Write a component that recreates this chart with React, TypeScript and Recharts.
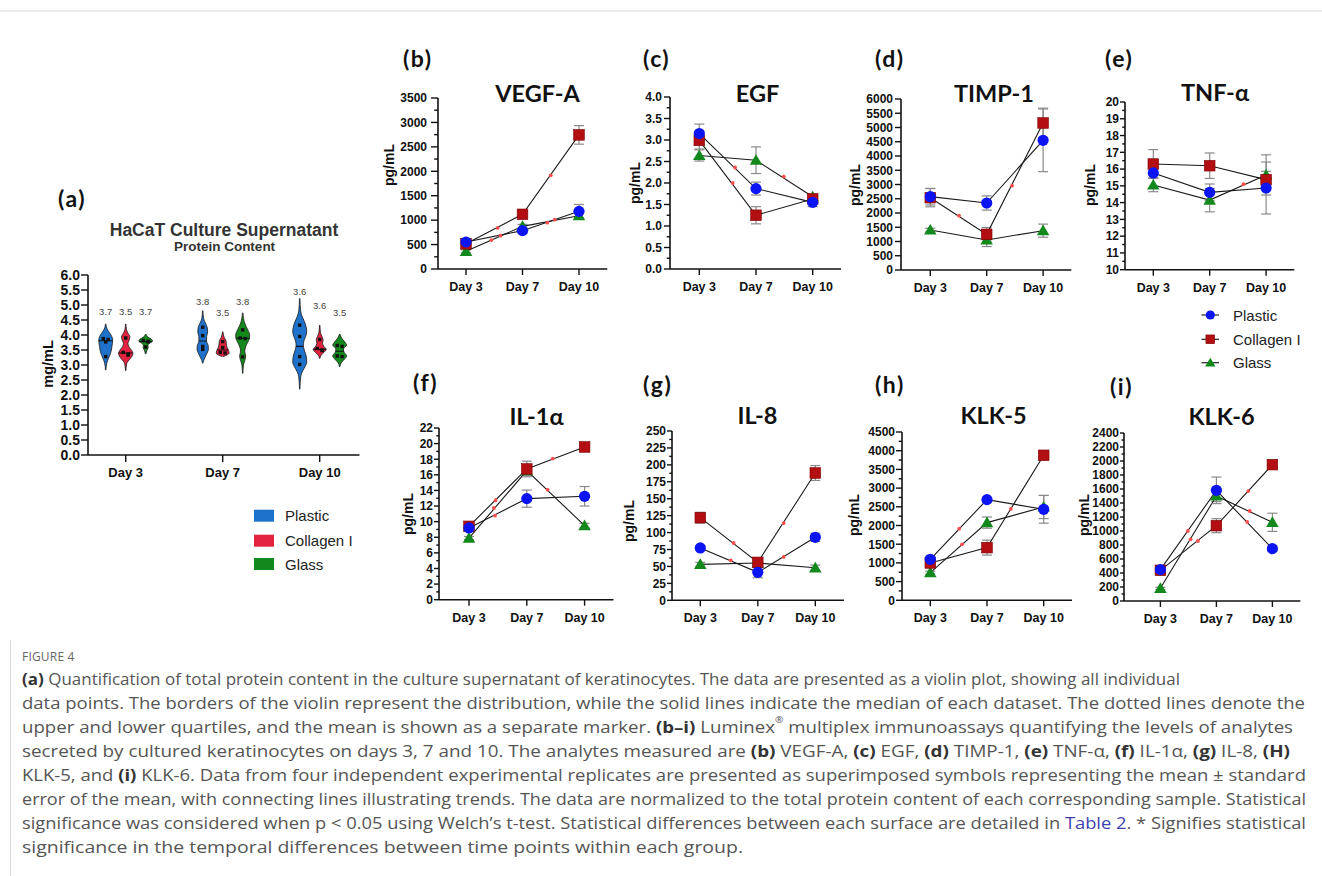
import React from 'react';
import { ComposedChart, Line, Scatter, Area, XAxis, YAxis, ErrorBar } from 'recharts';

// ---------------- shared categories ----------------
const DAYS = ['Day 3', 'Day 7', 'Day 10'];
const DAY_POS = [0, 1, 2];
const GROUPS = ['Plastic', 'Collagen I', 'Glass'];

// ---------------- (a) protein content (violin) ----------------
const PROTEIN_TICKS = [0, 0.5, 1, 1.5, 2, 2.5, 3, 3.5, 4, 4.5, 5, 5.5, 6];
const PLASTIC_POINTS = [[3.88, 3.85, 3.77, 3.28], [4.26, 3.98, 3.62, 3.52], [4.33, 3.95, 3.28, 3.02]];
const COLLAGEN_POINTS = [[3.9, 3.42, 3.37, 3.33], [3.78, 3.58, 3.42, 3.4], [3.85, 3.55, 3.5, 3.48]];
const GLASS_POINTS = [[3.82, 3.79, 3.77, 3.6], [4.17, 3.9, 3.88, 3.27], [3.65, 3.62, 3.3, 3.28]];
const PLASTIC_MEDIAN = [3.81, 3.8, 3.62];
const COLLAGEN_MEDIAN = [3.4, 3.5, 3.52];
const GLASS_MEDIAN = [3.78, 3.89, 3.46];
const PLASTIC_MEAN_LABEL = ['3.7', '3.8', '3.6'];
const COLLAGEN_MEAN_LABEL = ['3.5', '3.5', '3.6'];
const GLASS_MEAN_LABEL = ['3.7', '3.8', '3.5'];
const PLASTIC_LABEL_AT = [4.77, 5.1, 5.43];
const COLLAGEN_LABEL_AT = [4.77, 4.73, 4.97];
const GLASS_LABEL_AT = [4.77, 5.1, 4.73];
// violin outlines: [mg/mL, relative width]
const PLASTIC_PROFILE = [
  [[2.83, 0.03], [3.06, 0.14], [3.22, 0.36], [3.39, 0.64], [3.61, 0.82], [3.83, 0.92], [3.95, 0.8], [4.06, 0.55], [4.2, 0.18], [4.37, 0.03]],
  [[3.06, 0.03], [3.15, 0.12], [3.25, 0.3], [3.4, 0.58], [3.52, 0.75], [3.65, 0.72], [3.8, 0.5], [3.95, 0.52], [4.1, 0.65], [4.25, 0.6], [4.4, 0.35], [4.55, 0.12], [4.81, 0.03]],
  [[2.19, 0.03], [2.6, 0.12], [2.8, 0.38], [2.95, 0.72], [3.1, 0.92], [3.3, 0.85], [3.5, 0.6], [3.65, 0.48], [3.8, 0.55], [3.95, 0.78], [4.1, 0.92], [4.3, 0.82], [4.45, 0.62], [4.6, 0.35], [4.8, 0.12], [5.22, 0.03]],
];
const COLLAGEN_PROFILE = [
  [[2.81, 0.03], [3.05, 0.14], [3.17, 0.45], [3.3, 0.85], [3.39, 0.95], [3.5, 0.75], [3.62, 0.4], [3.72, 0.3], [3.84, 0.48], [3.94, 0.55], [4.06, 0.3], [4.18, 0.1], [4.37, 0.03]],
  [[3.28, 0.05], [3.33, 0.55], [3.4, 0.85], [3.48, 0.78], [3.6, 0.55], [3.72, 0.48], [3.82, 0.42], [3.92, 0.2], [4.0, 0.1], [4.11, 0.03]],
  [[3.22, 0.03], [3.33, 0.2], [3.43, 0.6], [3.52, 0.85], [3.62, 0.55], [3.72, 0.38], [3.84, 0.45], [3.95, 0.3], [4.08, 0.1], [4.33, 0.03]],
];
const GLASS_PROFILE = [
  [[3.37, 0.03], [3.48, 0.15], [3.58, 0.33], [3.66, 0.3], [3.74, 0.6], [3.8, 0.92], [3.86, 0.75], [3.93, 0.3], [4.03, 0.03]],
  [[2.72, 0.03], [3.0, 0.1], [3.15, 0.28], [3.3, 0.4], [3.45, 0.28], [3.6, 0.38], [3.75, 0.65], [3.9, 0.9], [4.0, 0.92], [4.15, 0.72], [4.3, 0.42], [4.45, 0.2], [4.74, 0.03]],
  [[2.94, 0.03], [3.08, 0.22], [3.2, 0.65], [3.3, 0.92], [3.42, 0.6], [3.5, 0.5], [3.58, 0.6], [3.66, 0.92], [3.76, 0.7], [3.9, 0.25], [4.03, 0.03]],
];

// ---------------- (b)-(i) Luminex analytes: mean and SEM per day ----------------
const VEGFA = { plastic: [553, 785, 1180], plasticSem: [45, 50, 140], collagen: [515, 1119, 2745], collagenSem: [30, 60, 190], glass: [362, 873, 1091], glassSem: [30, 40, 40] };
const EGF = { plastic: [3.15, 1.87, 1.55], plasticSem: [0.22, 0.15, 0.1], collagen: [2.99, 1.25, 1.63], collagenSem: [0.2, 0.2, 0.08], glass: [2.64, 2.53, 1.68], glassSem: [0.13, 0.31, 0.05] };
const TIMP1 = { plastic: [2573, 2351, 4550], plasticSem: [290, 250, 1100], collagen: [2538, 1251, 5158], collagenSem: [320, 240, 520], glass: [1404, 1053, 1380], glassSem: [60, 230, 230] };
const TNFA = { plastic: [15.77, 14.61, 14.87], plasticSem: [0.3, 0.5, 1.55], collagen: [16.3, 16.2, 15.37], collagenSem: [0.86, 0.76, 0.5], glass: [15.05, 14.15, 15.65], glassSem: [0.4, 0.7, 1.2] };
const IL1A = { plastic: [9.19, 12.95, 13.25], plasticSem: [0.4, 1.1, 1.25], collagen: [9.4, 16.75, 19.57], collagenSem: [0.3, 1.0, 0.3], glass: [7.9, 16.54, 9.49], glassSem: [0.2, 0.6, 0.3] };
const IL8 = { plastic: [77.3, 41.3, 93], plasticSem: [3, 8, 6], collagen: [122, 56, 188], collagenSem: [8, 5, 11], glass: [53, 55, 48], glassSem: [3, 3, 4] };
const KLK5 = { plastic: [1096, 2692, 2433], plasticSem: [80, 60, 370], collagen: [998, 1408, 3877], collagenSem: [60, 200, 60], glass: [740, 2077, 2495], glassSem: [40, 150, 310] };
const KLK6 = { plastic: [448, 1581, 748], plasticSem: [30, 190, 40], collagen: [438, 1076, 1948], collagenSem: [20, 100, 40], glass: [181, 1500, 1124], glassSem: [15, 80, 130] };

// significance markers on the connecting lines: [day position, value]
const VEGFA_SIG = [[0.56, 840], [0.45, 593], [0.61, 682], [1.5, 1917], [1.44, 948], [1.57, 1010]];
const EGF_SIG = [[0.63, 2.36], [0.59, 2.0], [1.49, 2.15]];
const TIMP1_SIG = [[0.51, 1906], [1.45, 2960]];
const TNFA_SIG = [[1.6, 15.1]];
const IL1A_SIG = [[0.46, 12.74], [0.43, 11.75], [0.45, 10.77], [1.45, 18.08], [1.36, 14.1]];
const IL8_SIG = [[0.58, 84.6], [0.53, 59], [1.45, 114], [1.45, 64]];
const KLK5_SIG = [[0.51, 1916], [0.56, 1497], [1.42, 2442]];
const KLK6_SIG = [[0.49, 1000], [0.54, 881], [0.67, 857], [1.57, 1571], [1.595, 1286], [1.55, 1129]];

// y-axis tick labels
const VEGFA_TICKS = [0, 500, 1000, 1500, 2000, 2500, 3000, 3500];
const EGF_TICKS = [0, 0.5, 1, 1.5, 2, 2.5, 3, 3.5, 4];
const TIMP1_TICKS = [0, 500, 1000, 1500, 2000, 2500, 3000, 3500, 4000, 4500, 5000, 5500, 6000];
const TNFA_TICKS = [10, 11, 12, 13, 14, 15, 16, 17, 18, 19, 20];
const IL1A_TICKS = [0, 2, 4, 6, 8, 10, 12, 14, 16, 18, 20, 22];
const IL8_TICKS = [0, 25, 50, 75, 100, 125, 150, 175, 200, 225, 250];
const KLK5_TICKS = [0, 500, 1000, 1500, 2000, 2500, 3000, 3500, 4000, 4500];
const KLK6_TICKS = [0, 200, 400, 600, 800, 1000, 1200, 1400, 1600, 1800, 2000, 2200, 2400];

// ---------------- styles / layout ----------------
const SANS = "'Liberation Sans', Arial, sans-serif";
const TITLE_FONT = "Lato, 'Liberation Sans', sans-serif";
const CAPTION_FONT = "'Open Sans', 'Liberation Sans', sans-serif";
const VIOLIN_COLORS = ['#1f72cc', '#e3223f', '#13891d'];
const MARK_COLORS = ['#0b14f2', '#b30f12', '#13891d'];
const GROUP_OFFSET = [-0.206, 0, 0.206];
const VIOLIN_W = 0.078;

const LINE_PANELS = [
  { letter: '(b)', title: 'VEGF-A', values: VEGFA, sig: VEGFA_SIG, ticks: VEGFA_TICKS, minor: true, decimals: 0, axisX: 438, top: 98, bottom: 269, day0: 466, step: 56.5, tickLen: 7, tickGap: 4, letterPos: [403, 57.5], titlePos: [537.5, 92.5], ylabelPos: [389, 165] },
  { letter: '(c)', title: 'EGF', values: EGF, sig: EGF_SIG, ticks: EGF_TICKS, minor: true, decimals: 1, axisX: 670, top: 97.3, bottom: 269.3, day0: 699.3, step: 56.7, tickLen: 6, tickGap: 2, letterPos: [643, 57.5], titlePos: [757.5, 92.5], ylabelPos: [635, 183] },
  { letter: '(d)', title: 'TIMP-1', values: TIMP1, sig: TIMP1_SIG, ticks: TIMP1_TICKS, minor: false, decimals: 0, axisX: 900.7, top: 99, bottom: 270, day0: 930, step: 56.4, tickLen: 6, tickGap: 2, letterPos: [875, 57.5], titlePos: [994, 92.5], ylabelPos: [855, 185] },
  { letter: '(e)', title: 'TNF-α', values: TNFA, sig: TNFA_SIG, ticks: TNFA_TICKS, minor: true, decimals: 0, axisX: 1125, top: 102.3, bottom: 270, day0: 1153.3, step: 56.4, tickLen: 5, tickGap: 1, letterPos: [1105, 57.5], titlePos: [1215, 91.5], ylabelPos: [1090, 185] },
  { letter: '(f)', title: 'IL-1α', values: IL1A, sig: IL1A_SIG, ticks: IL1A_TICKS, minor: true, decimals: 0, axisX: 439.3, top: 428.3, bottom: 600, day0: 469.3, step: 57.8, tickLen: 5, tickGap: 1, letterPos: [413, 381.5], titlePos: [536.5, 416], ylabelPos: [407.5, 514] },
  { letter: '(g)', title: 'IL-8', values: IL8, sig: IL8_SIG, ticks: IL8_TICKS, minor: true, decimals: 0, axisX: 671.7, top: 430.7, bottom: 600, day0: 700, step: 57.5, tickLen: 5, tickGap: 1, letterPos: [643, 384], titlePos: [757.5, 414.5], ylabelPos: [628.5, 521] },
  { letter: '(h)', title: 'KLK-5', values: KLK5, sig: KLK5_SIG, ticks: KLK5_TICKS, minor: true, decimals: 0, axisX: 901.7, top: 431.7, bottom: 600, day0: 930, step: 56.7, tickLen: 6, tickGap: 1, letterPos: [875, 384], titlePos: [993.5, 414.5], ylabelPos: [854, 515] },
  { letter: '(i)', title: 'KLK-6', values: KLK6, sig: KLK6_SIG, ticks: KLK6_TICKS, minor: true, decimals: 0, axisX: 1124.3, top: 432.7, bottom: 600.7, day0: 1160.7, step: 56, tickLen: 4, tickGap: 1, letterPos: [1110, 386], titlePos: [1221.5, 415.5], ylabelPos: [1084, 515] },
];

const CAPTION_LINES = [
  [['b', '(a)'], ['n', ' Quantification of total protein content in the culture supernatant of keratinocytes. The data are presented as a violin plot, showing all individual']],
  [['n', 'data points. The borders of the violin represent the distribution, while the solid lines indicate the median of each dataset. The dotted lines denote the']],
  [['n', 'upper and lower quartiles, and the mean is shown as a separate marker. '], ['b', '(b–i)'], ['n', ' Luminex'], ['s', '®'], ['n', ' multiplex immunoassays quantifying the levels of analytes']],
  [['n', 'secreted by cultured keratinocytes on days 3, 7 and 10. The analytes measured are '], ['b', '(b)'], ['n', ' VEGF-A, '], ['b', '(c)'], ['n', ' EGF, '], ['b', '(d)'], ['n', ' TIMP-1, '], ['b', '(e)'], ['n', ' TNF-α, '], ['b', '(f)'], ['n', ' IL-1α, '], ['b', '(g)'], ['n', ' IL-8, '], ['b', '(H)']],
  [['n', 'KLK-5, and '], ['b', '(i)'], ['n', ' KLK-6. Data from four independent experimental replicates are presented as superimposed symbols representing the mean ± standard']],
  [['n', 'error of the mean, with connecting lines illustrating trends. The data are normalized to the total protein content of each corresponding sample. Statistical']],
  [['n', 'significance was considered when p < 0.05 using Welch’s t-test. Statistical differences between each surface are detailed in '], ['l', 'Table 2'], ['n', '. * Signifies statistical']],
  [['n', 'significance in the temporal differences between time points within each group.']],
];
const CAPTION_ENDS = [1180, 1305, 1293, 1290, 1306, 1306, 1306, 743];

// ---------------- helpers ----------------
const yTickRenderer = (majors, decimals, fontSize, tickLen, gap) => (props) => {
  const { x, y, payload } = props;
  const value = payload.value;
  const major = majors.some((m) => Math.abs(m - value) < 1e-9);
  const ax = x + tickLen + gap;
  return (
    <g>
      <line x1={ax - (major ? tickLen : Math.max(2.5, tickLen * 0.55))} y1={y} x2={ax} y2={y} stroke="#111" strokeWidth={1.4} />
      {major ? (
        <text x={x} y={y} dy="0.36em" textAnchor="end" fontSize={fontSize} fontWeight={700} fill="#111" fontFamily={SANS}>
          {value.toFixed(decimals)}
        </text>
      ) : null}
    </g>
  );
};

const markerShape = (kind, cx, cy, s, key) => {
  if (kind === 0) return <circle key={key} cx={cx} cy={cy} r={s} fill={MARK_COLORS[0]} />;
  if (kind === 1)
    return <rect key={key} x={cx - s * 0.95} y={cy - s * 0.95} width={s * 1.9} height={s * 1.9} fill={MARK_COLORS[1]} stroke="#7a0000" strokeWidth={0.6} />;
  return <path key={key} d={`M${cx},${cy - s * 1.08} L${cx + s * 1.12},${cy + s * 0.82} L${cx - s * 1.12},${cy + s * 0.82} Z`} fill={MARK_COLORS[2]} />;
};

const makeDot = (kind) => (props) => {
  const { cx, cy, index } = props;
  if (cx == null || cy == null) return <g key={index} />;
  return markerShape(kind, cx, cy, 5.6, index);
};

const emptyShape = () => <g />;
const sigShape = (p) => <circle cx={p.cx} cy={p.cy} r={1.9} fill="#ff4f4f" />;
const pointShape = (p) => <rect x={p.cx - 1.7} y={p.cy - 1.7} width={3.4} height={3.4} fill="#111" />;
const labelShape = (p) => (
  <text x={p.cx} y={p.cy} dy="0.35em" textAnchor="middle" fontSize={9.5} fill="#444" fontFamily={SANS}>
    {p.payload.t}
  </text>
);

// ---------------- line panels ----------------
function LinePanel({ p }) {
  const yw = 50;
  const mt = 10;
  const mr = 4;
  const xh = 30;
  const xMin = -(p.day0 - p.axisX) / p.step;
  const xMax = 2.5;
  const plotW = (xMax - xMin) * p.step;
  const plotH = p.bottom - p.top;
  const v = p.values;
  const rows = DAY_POS.map((x, i) => ({
    x,
    plastic: v.plastic[i],
    plasticSem: v.plasticSem[i],
    collagen: v.collagen[i],
    collagenSem: v.collagenSem[i],
    glass: v.glass[i],
    glassSem: v.glassSem[i],
  }));
  const sig = p.sig.map(([x, val]) => ({ x, v: val }));
  const minor = p.minor ? p.ticks.slice(1).map((t, i) => (t + p.ticks[i]) / 2) : [];
  const allTicks = [...p.ticks, ...minor].sort((a, b) => a - b);
  const lineProps = { type: 'linear', stroke: '#1a1a1a', strokeWidth: 1.1, isAnimationActive: false, activeDot: false };
  const errProps = { width: 5, strokeWidth: 1.2, stroke: '#8a8a8a', direction: 'y' };
  return (
    <div style={{ position: 'absolute', left: p.axisX - yw, top: p.top - mt }}>
      <ComposedChart width={yw + plotW + mr} height={mt + plotH + xh} data={rows} margin={{ top: mt, right: mr, bottom: 0, left: 0 }}>
        <XAxis
          type="number"
          dataKey="x"
          domain={[xMin, xMax]}
          allowDataOverflow
          ticks={DAY_POS}
          interval={0}
          tickFormatter={(d) => DAYS[d]}
          height={xh}
          tickSize={6}
          tickMargin={7}
          axisLine={{ stroke: '#111', strokeWidth: 1.6 }}
          tickLine={{ stroke: '#111', strokeWidth: 1.4 }}
          tick={{ fontSize: 12.5, fontWeight: 700, fill: '#111', fontFamily: SANS }}
        />
        <YAxis
          type="number"
          domain={[p.ticks[0], p.ticks[p.ticks.length - 1]]}
          allowDataOverflow
          ticks={allTicks}
          interval={0}
          width={yw}
          tickSize={p.tickLen}
          tickMargin={p.tickGap}
          tickLine={false}
          axisLine={{ stroke: '#111', strokeWidth: 1.6 }}
          tick={yTickRenderer(p.ticks, p.decimals, 12, p.tickLen, p.tickGap)}
        />
        <Line dataKey="glass" name={GROUPS[2]} {...lineProps} dot={makeDot(2)}>
          <ErrorBar dataKey="glassSem" {...errProps} />
        </Line>
        <Line dataKey="collagen" name={GROUPS[1]} {...lineProps} dot={makeDot(1)}>
          <ErrorBar dataKey="collagenSem" {...errProps} />
        </Line>
        <Line dataKey="plastic" name={GROUPS[0]} {...lineProps} dot={makeDot(0)}>
          <ErrorBar dataKey="plasticSem" {...errProps} />
        </Line>
        <Scatter data={sig} dataKey="v" shape={sigShape} isAnimationActive={false} />
      </ComposedChart>
    </div>
  );
}

// ---------------- violin panel ----------------
function widthAt(profile, value) {
  for (let i = 1; i < profile.length; i++) {
    const [v0, w0] = profile[i - 1];
    const [v1, w1] = profile[i];
    if (value >= v0 && value <= v1) return w0 + ((w1 - w0) * (value - v0)) / (v1 - v0);
  }
  return 0;
}

function ViolinPanel() {
  const axisX = 88.3;
  const top = 275;
  const bottom = 455;
  const step = 97;
  const day0 = 126;
  const xMin = -(day0 - axisX) / step;
  const xMax = 2.41;
  const yw = 50;
  const mt = 10;
  const mr = 4;
  const xh = 32;
  const groups = [
    { points: PLASTIC_POINTS, profile: PLASTIC_PROFILE, median: PLASTIC_MEDIAN, label: PLASTIC_MEAN_LABEL, labelAt: PLASTIC_LABEL_AT },
    { points: COLLAGEN_POINTS, profile: COLLAGEN_PROFILE, median: COLLAGEN_MEDIAN, label: COLLAGEN_MEAN_LABEL, labelAt: COLLAGEN_LABEL_AT },
    { points: GLASS_POINTS, profile: GLASS_PROFILE, median: GLASS_MEDIAN, label: GLASS_MEAN_LABEL, labelAt: GLASS_LABEL_AT },
  ];
  const areas = [];
  const medians = [];
  const pts = [];
  const labels = [];
  groups.forEach((g, gi) => {
    DAY_POS.forEach((d, di) => {
      const c = d + GROUP_OFFSET[gi];
      const prof = g.profile[di];
      areas.push(
        <Area
          key={`v${gi}${di}`}
          data={prof.map(([val, w]) => ({ v: val, r: [c - w * VIOLIN_W, c + w * VIOLIN_W] }))}
          dataKey="r"
          type="monotone"
          fill={VIOLIN_COLORS[gi]}
          fillOpacity={1}
          stroke="#1b1b1b"
          strokeWidth={0.8}
          dot={false}
          activeDot={false}
          isAnimationActive={false}
        />
      );
      const mw = widthAt(prof, g.median[di]) * VIOLIN_W;
      medians.push(
        <Scatter
          key={`m${gi}${di}`}
          data={[{ px: c - mw, v: g.median[di] }, { px: c + mw, v: g.median[di] }]}
          line={{ stroke: '#111', strokeWidth: 1.1 }}
          shape={emptyShape}
          isAnimationActive={false}
        />
      );
      const vals = g.points[di];
      vals.forEach((val, k) => {
        const near = vals.findIndex((o, j) => j !== k && Math.abs(o - val) < 0.06);
        const dx = near < 0 ? 0 : (k < near ? -1 : 1) * 0.32 * VIOLIN_W;
        pts.push({ px: c + dx, v: val });
      });
      labels.push({ px: c, v: g.labelAt[di], t: g.label[di] });
    });
  });
  return (
    <div style={{ position: 'absolute', left: axisX - yw, top: top - mt }}>
      <ComposedChart layout="vertical" width={yw + (xMax - xMin) * step + mr} height={mt + (bottom - top) + xh} margin={{ top: mt, right: mr, bottom: 0, left: 0 }}>
        <XAxis
          type="number"
          dataKey="px"
          domain={[xMin, xMax]}
          allowDataOverflow
          ticks={DAY_POS}
          interval={0}
          tickFormatter={(d) => DAYS[d]}
          height={xh}
          tickSize={7}
          tickMargin={6}
          axisLine={{ stroke: '#111', strokeWidth: 1.6 }}
          tickLine={{ stroke: '#111', strokeWidth: 1.4 }}
          tick={{ fontSize: 13, fontWeight: 700, fill: '#111', fontFamily: SANS }}
        />
        <YAxis
          type="number"
          dataKey="v"
          domain={[0, 6]}
          reversed
          allowDataOverflow
          ticks={PROTEIN_TICKS}
          interval={0}
          width={yw}
          tickSize={7}
          tickMargin={1}
          tickLine={false}
          axisLine={{ stroke: '#111', strokeWidth: 1.6 }}
          tick={yTickRenderer(PROTEIN_TICKS, 1, 14, 7, 1)}
        />
        {areas}
        {medians}
        <Scatter data={pts} shape={pointShape} isAnimationActive={false} />
        <Scatter data={labels} shape={labelShape} isAnimationActive={false} />
      </ComposedChart>
    </div>
  );
}

// ---------------- text overlay ----------------
function Overlay() {
  return (
    <svg width={1322} height={876} style={{ position: 'absolute', left: 0, top: 0, pointerEvents: 'none' }}>
      <line x1={0} y1={11} x2={1322} y2={11} stroke="#d6d6d6" strokeWidth={1} />
      <line x1={10.5} y1={640} x2={10.5} y2={876} stroke="#d6d6d6" strokeWidth={1} />

      {/* panel (a) */}
      <text x={58} y={197.5} dominantBaseline="central" fontFamily={TITLE_FONT} fontWeight={700} fontSize={23} letterSpacing={1.5} fill="#111">(a)</text>
      <text x={224} y={229.5} dominantBaseline="central" textAnchor="middle" fontFamily={SANS} fontWeight={700} fontSize={17.5} fill="#333">HaCaT Culture Supernatant</text>
      <text x={224.5} y={246} dominantBaseline="central" textAnchor="middle" fontFamily={SANS} fontWeight={700} fontSize={13.5} fill="#333">Protein Content</text>
      <text x={0} y={0} transform="translate(47.5,364) rotate(-90)" dominantBaseline="central" textAnchor="middle" fontFamily={SANS} fontWeight={700} fontSize={14.5} fill="#111">mg/mL</text>
      {GROUPS.map((g, i) => (
        <g key={g}>
          <rect x={254} y={[515.7, 540.7, 564][i] - 6} width={20} height={12} fill={VIOLIN_COLORS[i]} />
          <text x={285} y={[515.7, 540.7, 564][i]} dominantBaseline="central" fontFamily={SANS} fontSize={15} fill="#222">{g}</text>
        </g>
      ))}

      {/* panels (b)-(i) */}
      {LINE_PANELS.map((p) => (
        <g key={p.letter}>
          <text x={p.letterPos[0]} y={p.letterPos[1]} dominantBaseline="central" fontFamily={TITLE_FONT} fontWeight={700} fontSize={23} letterSpacing={1.5} fill="#111">{p.letter}</text>
          <text x={p.titlePos[0]} y={p.titlePos[1]} dominantBaseline="central" textAnchor="middle" fontFamily={TITLE_FONT} fontWeight={700} fontSize={23.5} fill="#111">{p.title}</text>
          <text x={0} y={0} transform={`translate(${p.ylabelPos[0]},${p.ylabelPos[1]}) rotate(-90)`} dominantBaseline="central" textAnchor="middle" fontFamily={SANS} fontWeight={700} fontSize={14} fill="#111">pg/mL</text>
        </g>
      ))}

      {/* legend of (e) */}
      {GROUPS.map((g, i) => {
        const y = [315, 339.3, 362.7][i];
        return (
          <g key={g}>
            <line x1={1201.5} y1={y} x2={1219} y2={y} stroke="#222" strokeWidth={1.2} />
            {markerShape(i, 1210.3, y, 4.6, g)}
            <text x={1233} y={y} dominantBaseline="central" fontFamily={SANS} fontSize={15} fill="#222">{g}</text>
          </g>
        );
      })}

      {/* caption */}
      <text x={22} y={656} dominantBaseline="central" fontFamily={CAPTION_FONT} fontSize={12} fill="#666" letterSpacing={0.2}>FIGURE 4</text>
      {CAPTION_LINES.map((segs, i) => (
        <text
          key={i}
          x={22}
          y={678 + 24 * i}
          dominantBaseline="central"
          textLength={CAPTION_ENDS[i] - 22}
          lengthAdjust="spacingAndGlyphs"
          fontFamily={CAPTION_FONT}
          fontSize={16.5}
          fill="#555"
        >
          {segs.map(([k, t], j) => (
            <tspan
              key={j}
              fontWeight={k === 'b' ? 700 : 400}
              fill={k === 'b' ? '#333' : k === 'l' ? '#3f3fb0' : undefined}
              fontSize={k === 's' ? 9 : undefined}
              baselineShift={k === 's' ? 'super' : undefined}
            >
              {t}
            </tspan>
          ))}
        </text>
      ))}
    </svg>
  );
}

export default function App() {
  return (
    <div style={{ position: 'absolute', left: 0, top: 0, width: 1322, height: 876, background: '#fff', overflow: 'hidden' }}>
      <ViolinPanel />
      {LINE_PANELS.map((p) => (
        <LinePanel key={p.letter} p={p} />
      ))}
      <Overlay />
    </div>
  );
}
